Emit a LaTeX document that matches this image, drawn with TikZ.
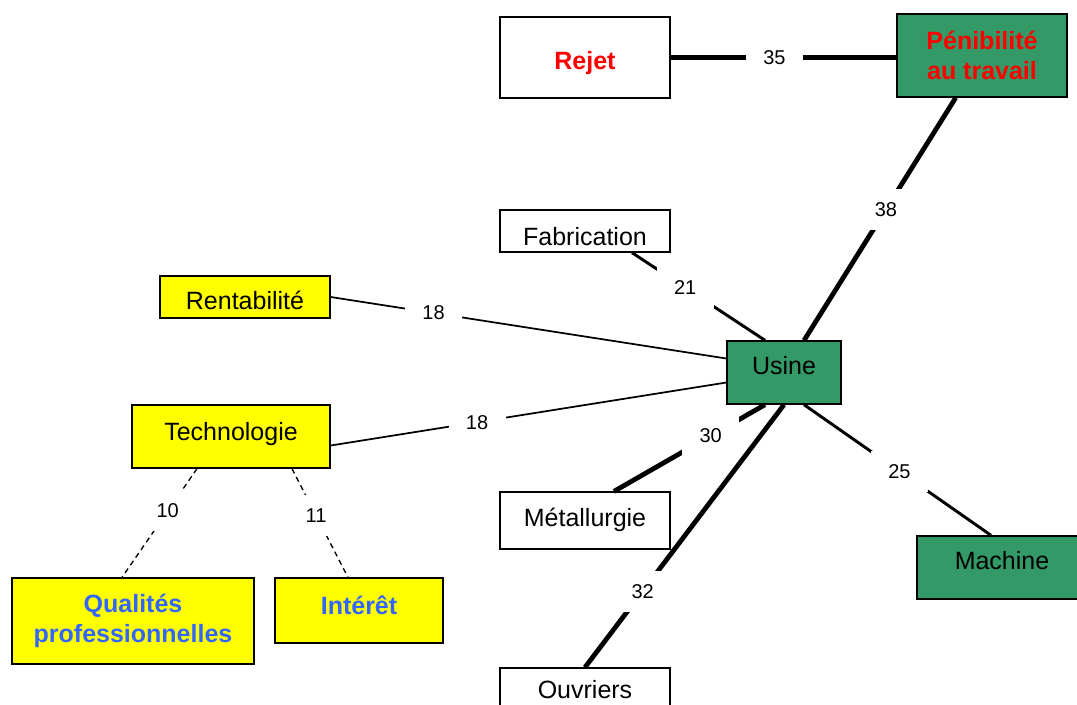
\documentclass[tikz,border=0pt]{standalone}
\usepackage{fontspec}
\setmainfont{Liberation Sans}
\usetikzlibrary{positioning}

\definecolor{boxgreen}{RGB}{51,153,102}
\definecolor{boxyellow}{RGB}{255,255,0}
\definecolor{txtred}{RGB}{255,0,0}
\definecolor{txtblue}{RGB}{51,102,255}

\begin{document}
\begin{tikzpicture}[x=0.75pt, y=-0.75pt,
  box/.style={draw, line width=1pt, inner sep=0pt, align=center,
    font=\fontsize{18.75}{23}\selectfont},
  wbox/.style={box, fill=white},
  gbox/.style={box, fill=boxgreen},
  ybox/.style={box, fill=boxyellow},
  lift/.style={text height={22.5pt-(#1)}, text depth={9pt+(#1)}},
  hot/.style={font=\fontsize{18.75}{23}\selectfont\bfseries, text=txtred},
  cool/.style={font=\fontsize{18.75}{22.5}\selectfont\bfseries, text=txtblue},
  wt/.style={fill=white, inner xsep=13pt, inner ysep=10pt,
    font=\fontsize{15}{18}\selectfont},
  heavy/.style={line width=3.6pt},
  mid/.style={line width=2.2pt},
  light/.style={line width=1.3pt},
  weak/.style={line width=1pt, dash pattern=on 4pt off 3pt},
]
\fill[white] (0,0) rectangle (1077,704);
\useasboundingbox (0,0) rectangle (1077,704);

% ── Top row ──
\node[wbox, hot, minimum width=127.5pt, minimum height=60.75pt, lift=-1.9pt]
  (rejet) at (585,57.5) {Rejet};
\node[gbox, hot, minimum width=127.5pt, minimum height=62.25pt]
  (pen) at (982,55.5) {Pénibilité\\au travail};

% ── Middle ──
\node[wbox, minimum width=127.5pt, minimum height=31.5pt, lift=-3.75pt]
  (fab) at (585,231) {Fabrication};
\node[ybox, minimum width=127.5pt, minimum height=31.5pt, lift=-2.25pt]
  (rent) at (245,297) {Rentabilité};
\node[gbox, minimum width=85.5pt, minimum height=47.25pt, lift=4.9pt]
  (usine) at (784,372.5) {Usine};
\node[ybox, minimum width=148.5pt, minimum height=47.25pt, lift=4.1pt]
  (tech) at (231,436.5) {Technologie};

% ── Bottom ──
\node[wbox, minimum width=127.5pt, minimum height=42.75pt, lift=1.9pt]
  (met) at (585,520.5) {Métallurgie};
\node[gbox, minimum width=127.5pt, minimum height=47.25pt, lift=4.9pt]
  (mach) at (1002,567.5) {Machine};
\node[ybox, cool, minimum width=181.5pt, minimum height=64.5pt]
  (qual) at (133,621) {Qualités\\professionnelles};
\node[ybox, cool, minimum width=126pt, minimum height=48.75pt, lift=3.4pt]
  (int) at (359,610.5) {Intérêt};
\node[wbox, minimum width=127.5pt, minimum height=42.75pt, lift=5pt]
  (ouv) at (585,696.5) {Ouvriers};

% ── Links with their weights ──
\draw[heavy] (rejet.east) -- node[wt, pos=0.46] (l35) {35} (rejet.east -| pen.west);
\draw[heavy] (pen) -- node[wt, pos=0.46] (l38) {38} (usine);
\draw[mid] ([shift={(47,0)}]fab.south) -- node[wt, pos=0.4] (l21) {21}
  ([shift={(-19,0)}]usine.north);
\draw[light] (rent.east) -- node[wt, pos=0.26] (l18a) {18}
  ([shift={(0,-14)}]usine.west);
\draw[light] ([shift={(0,9)}]tech.east) -- node[wt, pos=0.37] (l18b) {18}
  ([shift={(0,10)}]usine.west);
\draw[heavy] ([shift={(29,0)}]met.north) -- node[wt, pos=0.64] (l30) {30}
  ([shift={(-19,0)}]usine.south);
\draw[heavy] (ouv.north) -- node[wt, pos=0.29] (l32) {32} (usine.south);
\draw[mid] ([shift={(20,0)}]usine.south) -- node[wt, pos=0.51] (l25) {25}
  ([shift={(-11,0)}]mach.north);

% dashed links below Technologie
\draw[weak] ([shift={(-34,0)}]tech.south) -- node[wt, pos=0.39] (l10) {10}
  ([shift={(-11,0)}]qual.north);
\draw[weak] ([shift={(61,0)}]tech.south) -- node[wt, pos=0.43] (l11) {11}
  ([shift={(-11,0)}]int.north);
\end{tikzpicture}
\end{document}
